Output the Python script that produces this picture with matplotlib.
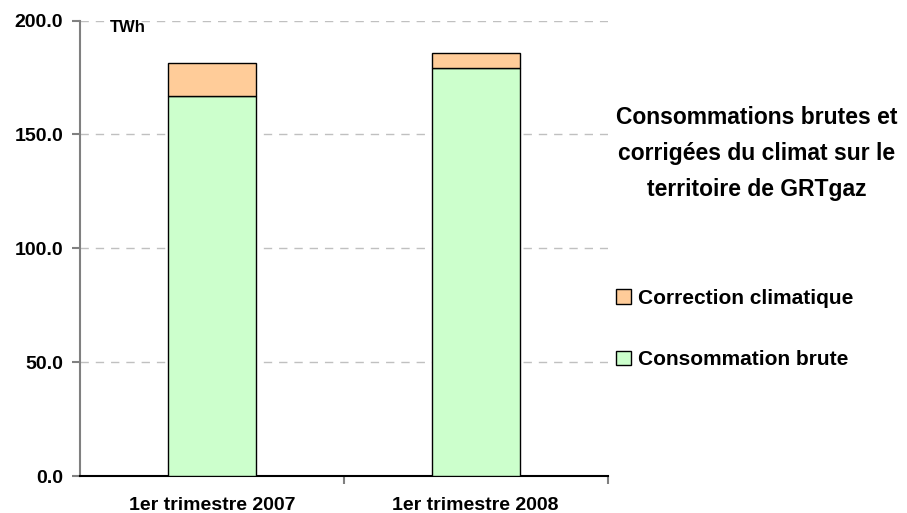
import matplotlib.pyplot as plt
import numpy as np

plt.rcParams['font.family'] = ['Liberation Sans', 'DejaVu Sans']

categories = ['1er trimestre 2007', '1er trimestre 2008']
conso_brute = [166.9, 179.3]
correction = [14.3, 6.3]

fig = plt.figure(figsize=(9.07, 5.13), dpi=100)
ax = fig.add_axes([0.0882, 0.0721, 0.5816, 0.8879])

ind = np.arange(len(categories))
width = 0.333

b1 = ax.bar(ind, conso_brute, width, color='#CCFFCC', edgecolor='black', linewidth=1, zorder=3)
b2 = ax.bar(ind, correction, width, bottom=conso_brute, color='#FFCC99', edgecolor='black', linewidth=1, zorder=3)

ax.set_xlim(-0.5, 1.5)
ax.set_ylim(0, 200)
ax.set_yticks([0, 50, 100, 150, 200])
ax.set_yticklabels(['%.1f' % v for v in [0, 50, 100, 150, 200]], fontsize=14, fontweight='bold')
ax.set_xticks(ind)
ax.set_xticklabels(categories, fontsize=14, fontweight='bold')
ax.set_xticks([0.5, 1.5], minor=True)
ax.tick_params(axis='x', which='major', length=0, pad=15)
ax.tick_params(axis='x', which='minor', length=6, color='#808080', width=1.5)
ax.tick_params(axis='y', length=6, color='#808080', width=1.5, pad=6)

ax.grid(axis='y', color='#C0C0C0', linestyle=(0, (6, 5)), linewidth=1, zorder=0)
for s in ['top', 'right']:
    ax.spines[s].set_visible(False)
ax.spines['left'].set_color('#808080')
ax.spines['left'].set_linewidth(1.5)
ax.spines['bottom'].set_color('black')
ax.spines['bottom'].set_linewidth(1.5)

fig.text(110 / 907, 1 - 20 / 513, 'TWh', fontsize=12, fontweight='bold', va='top', ha='left')

fig.text(0.834, 0.700, 'Consommations brutes et\ncorrigées du climat sur le\nterritoire de GRTgaz',
         ha='center', va='center', fontsize=16.5, fontweight='bold', linespacing=1.72)

leg = fig.legend((b2, b1), ('Correction climatique', 'Consommation brute'),
                 loc='upper left', bbox_to_anchor=(0.658, 0.474), frameon=False,
                 prop={'size': 15, 'weight': 'bold'}, handlelength=0.72, handleheight=0.72,
                 handletextpad=0.35, labelspacing=2.05)

fig.savefig('out.png', dpi=100)
